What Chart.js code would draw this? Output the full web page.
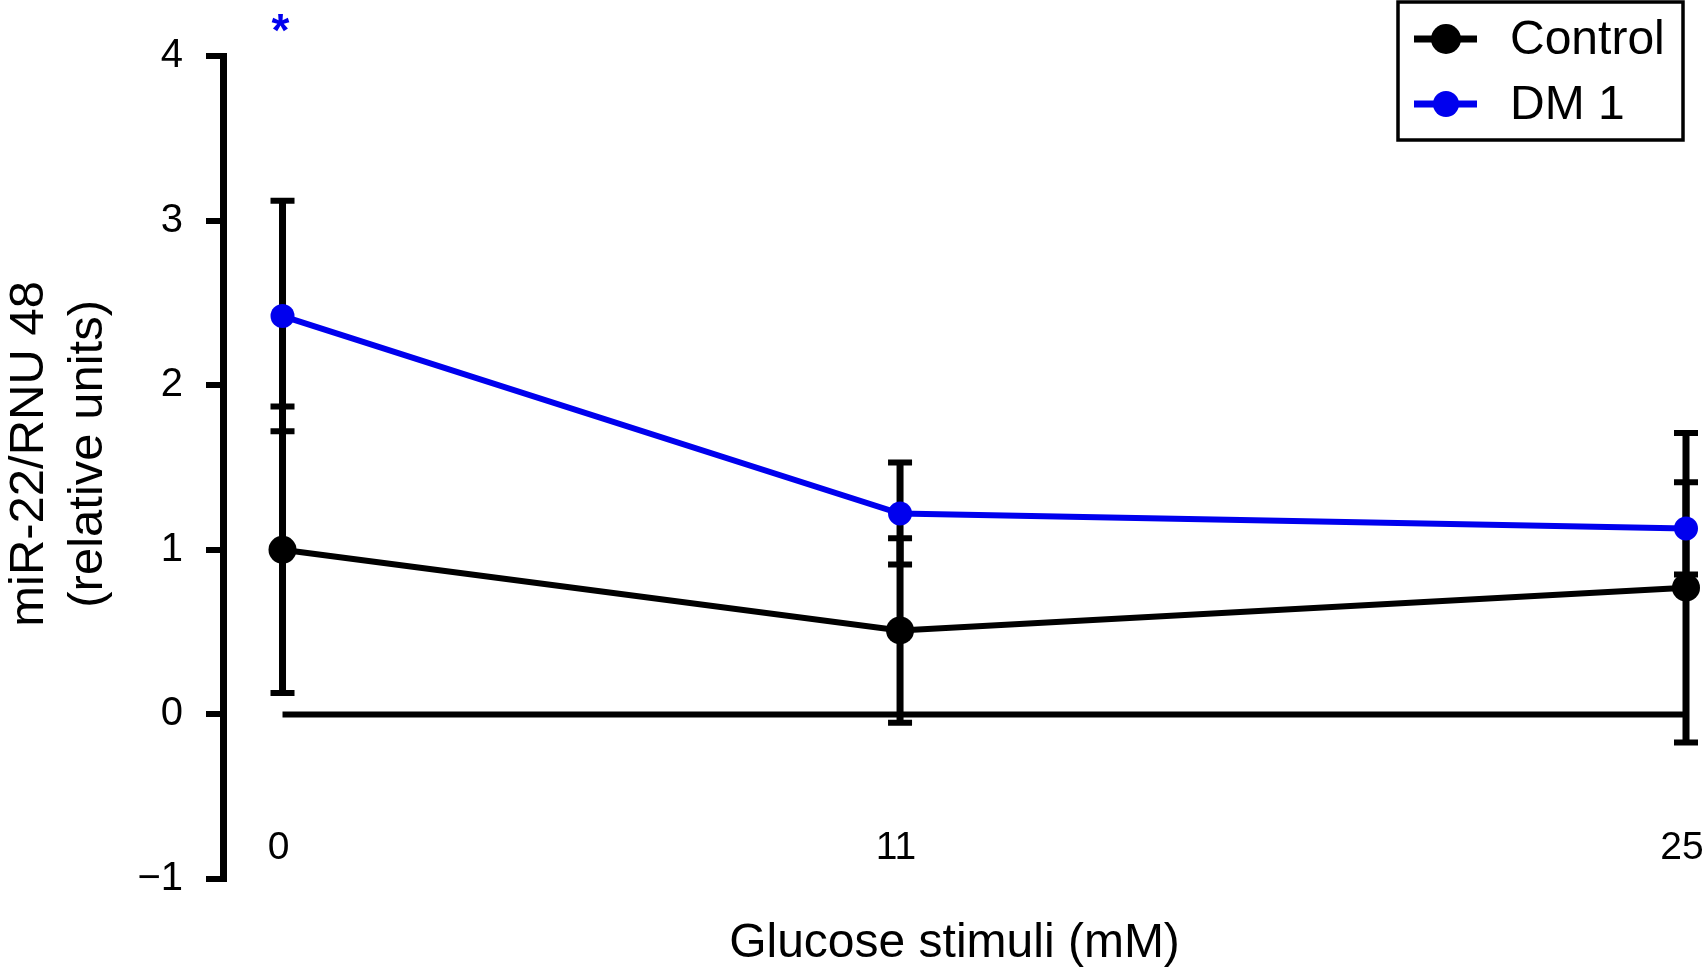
<!DOCTYPE html>
<html>
<head>
<meta charset="utf-8">
<script src="https://cdn.jsdelivr.net/npm/chart.js@4"></script>
<style>
    html, body { margin: 0; padding: 0; background: #fff; }
    #wrap { width: 1704px; height: 968px; position: relative; }
</style>
</head>
<body>
<div id="wrap"><canvas id="chart"></canvas></div>
<script>
// glucose concentration (mM)
const xValues = [0, 11, 25];
const controlMean = [1.0, 0.51, 0.77];
const controlSd = [0.87, 0.56, 0.94];
const dmMean = [2.42, 1.22, 1.13];
const dmSd = [0.70, 0.31, 0.28];
const yTickLabels = ['\u22121', '0', '1', '2', '3', '4'];
const seriesNames = ['Control', 'DM 1'];

const FONT = "'Liberation Sans', Arial, Helvetica, sans-serif";
const BLUE = '#0000ee';

function toPoints(means) {
    return xValues.map((x, i) => ({ x: x, y: means[i] }));
}

// zero line + error bars, drawn under the series
const errorBars = {
    id: 'errorBars',
    beforeDatasetsDraw(chart) {
        const ctx = chart.ctx;
        const xs = chart.scales.x;
        const ys = chart.scales.y;
        ctx.save();
        ctx.strokeStyle = '#000';
        ctx.lineCap = 'butt';

        // horizontal line at y = 0
        ctx.lineWidth = 6;
        ctx.beginPath();
        ctx.moveTo(xs.getPixelForValue(xValues[0]), ys.getPixelForValue(0));
        ctx.lineTo(xs.getPixelForValue(xValues[xValues.length - 1]), ys.getPixelForValue(0));
        ctx.stroke();

        const sets = [[controlMean, controlSd], [dmMean, dmSd]];
        sets.forEach(([means, sds]) => {
            xValues.forEach((x, i) => {
                const px = xs.getPixelForValue(x);
                const top = ys.getPixelForValue(means[i] + sds[i]);
                const bot = ys.getPixelForValue(means[i] - sds[i]);
                ctx.lineWidth = 7;
                ctx.beginPath();
                ctx.moveTo(px, top);
                ctx.lineTo(px, bot);
                ctx.stroke();
                ctx.lineWidth = 6;
                ctx.beginPath();
                ctx.moveTo(px - 12, top);
                ctx.lineTo(px + 12, top);
                ctx.moveTo(px - 12, bot);
                ctx.lineTo(px + 12, bot);
                ctx.stroke();
            });
        });
        ctx.restore();
    }
};

// boxed legend in the top right corner and the significance star
const extras = {
    id: 'extras',
    afterDraw(chart) {
        const ctx = chart.ctx;
        const xs = chart.scales.x;
        ctx.save();

        ctx.fillStyle = BLUE;
        ctx.font = 'bold 46px ' + FONT;
        ctx.textAlign = 'center';
        ctx.textBaseline = 'alphabetic';
        ctx.fillText('*', xs.getPixelForValue(xValues[0]) - 2, 46);

        ctx.strokeStyle = '#000';
        ctx.lineWidth = 3.5;
        ctx.strokeRect(1398, 2, 285, 138);

        const rows = [
            { y: 39, color: '#000', r: 15 },
            { y: 104, color: BLUE, r: 13 }
        ];
        ctx.font = '48px ' + FONT;
        ctx.textAlign = 'left';
        ctx.textBaseline = 'middle';
        rows.forEach((row, i) => {
            ctx.strokeStyle = row.color;
            ctx.fillStyle = row.color;
            ctx.lineWidth = 7;
            ctx.beginPath();
            ctx.moveTo(1414, row.y);
            ctx.lineTo(1477, row.y);
            ctx.stroke();
            ctx.beginPath();
            ctx.arc(1446, row.y, row.r, 0, Math.PI * 2);
            ctx.fill();
            ctx.fillStyle = '#000';
            ctx.fillText(seriesNames[i], 1510, row.y + 2);
        });
        ctx.restore();
    }
};

new Chart(document.getElementById('chart'), {
    type: 'line',
    data: {
        datasets: [
            {
                label: seriesNames[0],
                data: toPoints(controlMean),
                borderColor: '#000',
                backgroundColor: '#000',
                borderWidth: 6,
                pointRadius: 14,
                pointBorderWidth: 0,
                pointBackgroundColor: '#000',
                tension: 0,
                clip: false
            },
            {
                label: seriesNames[1],
                data: toPoints(dmMean),
                borderColor: BLUE,
                backgroundColor: BLUE,
                borderWidth: 6,
                pointRadius: 12,
                pointBorderWidth: 0,
                pointBackgroundColor: BLUE,
                tension: 0,
                clip: false
            }
        ]
    },
    options: {
        responsive: true,
        maintainAspectRatio: false,
        animation: false,
        layout: { padding: { top: 56, right: 18, left: 0, bottom: 0 } },
        plugins: {
            legend: { display: false },
            tooltip: { enabled: false }
        },
        scales: {
            x: {
                type: 'linear',
                position: 'bottom',
                min: -1.06,
                max: 25,
                grid: { display: false, drawTicks: false },
                border: { display: false },
                afterBuildTicks: (s) => { s.ticks = xValues.map(v => ({ value: v })); },
                ticks: {
                    color: '#000',
                    font: { size: 39, family: FONT },
                    mirror: true,
                    padding: 7,
                    labelOffset: -4,
                    maxRotation: 0,
                    autoSkip: false
                },
                title: {
                    display: true,
                    text: 'Glucose stimuli (mM)',
                    color: '#000',
                    font: { size: 48, family: FONT, lineHeight: 1.0 },
                    padding: 0
                },
                afterFit: (s) => {
                    s.height = 89;
                    s.paddingLeft = 0;
                    s.paddingRight = 0;
                }
            },
            y: {
                type: 'linear',
                min: -1,
                max: 4,
                ticks: {
                    stepSize: 1,
                    color: '#000',
                    font: { size: 40, family: FONT },
                    padding: 23,
                    callback: (v, i) => yTickLabels[i]
                },
                grid: {
                    display: true,
                    drawOnChartArea: false,
                    drawTicks: true,
                    tickLength: 17,
                    tickWidth: 6,
                    tickColor: '#000',
                    lineWidth: 6,
                    color: '#000'
                },
                border: { display: true, color: '#000', width: 7 },
                title: {
                    display: true,
                    text: ['\u00a0\u00a0miR-22/RNU 48', '\u00a0\u00a0(relative units)'],
                    color: '#000',
                    font: { size: 49, family: FONT, lineHeight: 1.2 },
                    padding: 0
                },
                afterFit: (s) => { s.width = 223; }
            }
        }
    },
    plugins: [errorBars, extras]
});
</script>
</body>
</html>
